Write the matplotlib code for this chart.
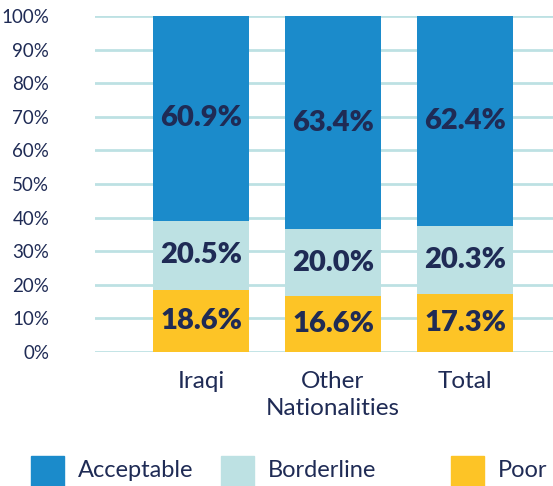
import matplotlib
matplotlib.use("Agg")
import matplotlib.pyplot as plt
from matplotlib.patches import Rectangle

categories = ["Iraqi", "Other\nNationalities", "Total"]
poor = [18.6, 16.6, 17.3]
borderline = [20.5, 20.0, 20.3]
acceptable = [60.9, 63.4, 62.4]
yticks = [0, 10, 20, 30, 40, 50, 60, 70, 80, 90, 100]

C_ACC = "#1b8bcb"
C_BORD = "#bde1e3"
C_POOR = "#fdc426"
C_TEXT = "#1f2b55"
C_GRID = "#bde1e3"

plt.rcParams["font.family"] = ["Lato", "DejaVu Sans"]

fig = plt.figure(figsize=(5.53, 4.86), dpi=100)
ax = fig.add_axes([95 / 553, (486 - 352) / 486, (553 - 95) / 553, 336 / 486])

x = range(len(categories))
w = 96 / 132
series = [(poor, C_POOR), (borderline, C_BORD), (acceptable, C_ACC)]
bottoms = [0.0] * len(categories)
for vals, col in series:
    ax.bar(x, vals, width=w, bottom=bottoms, color=col, zorder=3)
    for i, v in enumerate(vals):
        ax.text(i, bottoms[i] + v / 2, f"{v:.1f}%", ha="center", va="center",
                fontsize=21, fontweight="heavy", color=C_TEXT, zorder=4)
    bottoms = [b + v for b, v in zip(bottoms, vals)]

ax.set_xlim(-106 / 132, (553 - 201) / 132)
ax.set_ylim(0, 100)
ax.set_yticks(yticks)
ax.set_yticklabels([f"{t}%" for t in yticks])
for t in yticks:
    ax.axhline(t, color=C_GRID, lw=2, zorder=1)
ax.tick_params(axis="y", length=0, pad=33, labelsize=13.5, labelcolor=C_TEXT)
ax.set_xticks(list(x))
ax.set_xticklabels(categories, fontsize=17.5, color=C_TEXT, linespacing=1.3)
ax.tick_params(axis="x", length=0, pad=14)
for s in ax.spines.values():
    s.set_visible(False)

# legend
legend_items = [("Acceptable", C_ACC, 31), ("Borderline", C_BORD, 221), ("Poor", C_POOR, 451)]
for label, col, px in legend_items:
    fig.add_artist(Rectangle((px / 553, 0), 33 / 553, 30 / 486,
                             transform=fig.transFigure, color=col))
    fig.text((px + 47) / 553, (486 - 470) / 486, label, fontsize=17, color=C_TEXT,
             ha="left", va="center")

fig.savefig("out.png", dpi=100)
